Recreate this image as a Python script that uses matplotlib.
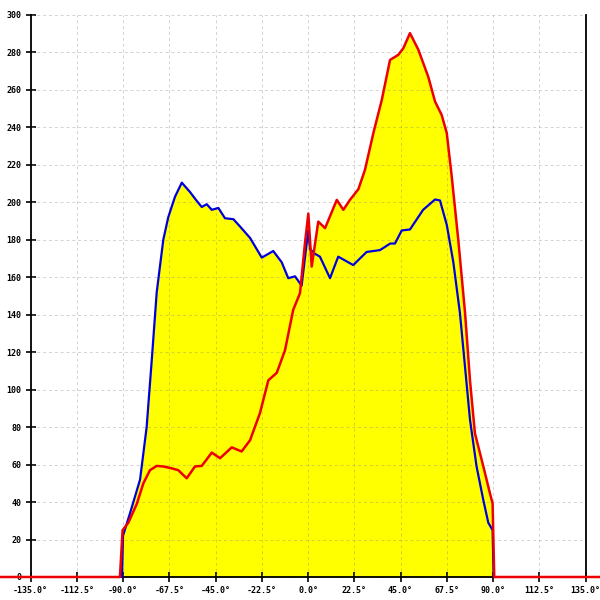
import numpy as np
import matplotlib
matplotlib.use('Agg')
import matplotlib.pyplot as plt

# angle (deg) / value pairs
blue_x = [-90.5, -90.0, -86.6, -81.7, -78.5, -76.0, -73.6, -70.4, -68.0, -64.7, -61.4,
          -57.4, -55.0, -51.7, -49.3, -46.8, -43.6, -40.4, -36.3, -33.0, -28.2, -22.5,
          -16.9, -12.8, -9.6, -6.3, -3.1, 0.1, 1.0, 3.4, 5.8, 10.7, 14.7, 22.0, 28.5,
          35.0, 40.0, 42.3, 45.6, 49.6, 56.0, 61.8, 64.2, 67.5, 70.7, 73.9, 76.4, 78.8,
          82.0, 85.3, 87.7, 89.8, 90.3]
blue_y = [0, 22, 34, 52, 80, 116, 152, 180, 192, 203, 210.5,
          205.5, 202, 197.5, 199, 196, 197, 191.5, 191, 187, 181, 170.5,
          174, 168, 159.5, 160.5, 155.5, 185, 175, 172.5, 171, 159.5, 171, 166.5, 173.5,
          174.5, 178, 178, 185, 185.5, 196, 201.5, 201, 188, 168, 141, 112, 84,
          59, 41, 29, 25, 0]

red_x = [-150, -91.5, -90.2, -87.4, -83.3, -80.1, -76.9, -73.6, -70.4, -66.3, -63.1,
         -59.0, -55.0, -51.7, -46.8, -42.8, -37.1, -32.3, -28.2, -23.4, -19.3, -15.2,
         -11.2, -7.2, -3.9, -1.5, 0.15, 1.8, 5.0, 8.3, 14.0, 17.2, 20.4, 24.5, 27.7,
         31.8, 35.9, 39.9, 43.9, 46.4, 49.6, 53.7, 58.5, 61.8, 65.0, 67.5, 69.9, 73.1,
         76.4, 78.8, 81.2, 85.3, 88.5, 89.8, 90.6, 143]
red_y = [0, 0, 25, 29, 39, 50, 57, 59.3, 59, 58, 57,
         52.7, 59, 59.3, 66.4, 63.4, 69.2, 67, 73, 87.4, 105, 109,
         121, 142.6, 151.5, 178, 194, 165.7, 189.7, 186.2, 201.3, 196, 201.3, 207, 217.3,
         237, 254.7, 276, 278.7, 282.3, 290.3, 281.4, 267, 253.8, 246.7, 237, 214, 180,
         141, 105, 76.7, 59, 44.7, 39.3, 0, 0]

x_ticks = np.arange(-135, 135.1, 22.5)
y_ticks = np.arange(0, 301, 20)
x_labels = ['%.1f°' % v for v in x_ticks]

fig = plt.figure(figsize=(6, 6), dpi=100)
ax = fig.add_axes([0, 0, 1, 1])

ax.fill_between(blue_x, blue_y, 0, color='#ffff00', lw=0, zorder=1)
ax.fill_between(red_x, red_y, 0, color='#ffff00', lw=0, zorder=1)

# grid only inside the box
ax.hlines(y_ticks, -135, 135, colors='gray', alpha=0.35, lw=0.7,
          linestyles=(0, (3, 3)), zorder=2)
ax.vlines(x_ticks, 0, 300, colors='gray', alpha=0.35, lw=0.7,
          linestyles=(0, (3, 3)), zorder=2)

ax.plot(blue_x, blue_y, color='#0000dd', lw=1.6, zorder=4)
ax.plot(red_x, red_y, color='#ee0000', lw=1.8, zorder=5)

ax.set_xlim(-149.84, 142.05)
ax.set_ylim(-12.28, 308.0)

ax.spines['top'].set_visible(False)
ax.spines['left'].set_position(('data', -135))
ax.spines['left'].set_bounds(0, 300)
ax.spines['right'].set_position(('data', 135))
ax.spines['right'].set_bounds(0, 300)
ax.spines['bottom'].set_position(('data', 0))
ax.spines['bottom'].set_bounds(-135, 135)
for s in ['left', 'right', 'bottom']:
    ax.spines[s].set_linewidth(1.3)
    ax.spines[s].set_zorder(3)

ax.set_xticks(x_ticks)
ax.set_xticklabels(x_labels)
ax.set_yticks(y_ticks)
ax.tick_params(axis='both', direction='inout', length=6.5, width=1.2,
               labelsize=6, right=False, top=False)
ax.tick_params(axis='y', pad=3.5)
ax.tick_params(axis='x', pad=3.5)
for lab in ax.get_xticklabels() + ax.get_yticklabels():
    lab.set_family('DejaVu Sans Mono')
    lab.set_weight('bold')

fig.savefig('out.png', dpi=100)
